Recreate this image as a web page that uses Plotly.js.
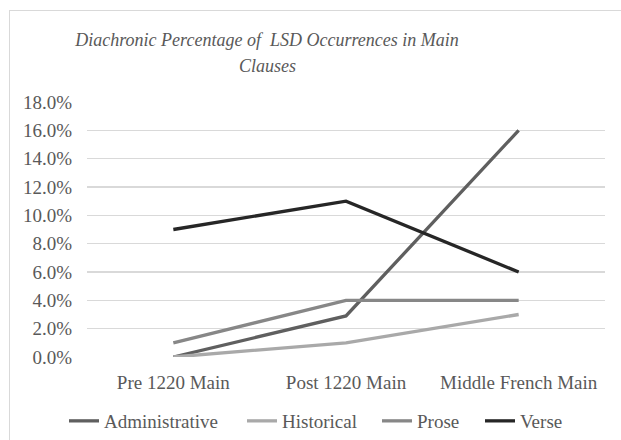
<!DOCTYPE html>
<html>
<head>
<meta charset="utf-8">
<script src="https://cdn.plot.ly/plotly-3.0.1.min.js"></script>
<style>
html,body{margin:0;padding:0;background:#fff;}
#wrap{position:relative;width:621px;height:440px;overflow:hidden;}
#chart{width:621px;height:440px;}
#frame{position:absolute;left:9px;top:10px;width:640px;height:460px;border:1px solid #d9d9d9;pointer-events:none;}
</style>
</head>
<body>
<div id="wrap"><div id="chart"></div><div id="frame"></div></div>
<script>
const categories = ["Pre 1220 Main", "Post 1220 Main", "Middle French Main"];
const seriesNames = ["Administrative", "Historical", "Prose", "Verse"];
const administrative = [0.0, 0.029, 0.16];
const historical = [0.0, 0.01, 0.03];
const prose = [0.01, 0.04, 0.04];
const verse = [0.09, 0.11, 0.06];
const colors = ["#5f5f5f", "#a9a9a9", "#878787", "#262626"];
const values = [administrative, historical, prose, verse];
const titleLines = ["Diachronic Percentage of  LSD Occurrences in Main", "Clauses"];

const font = "'Liberation Serif', 'DejaVu Serif', serif";
const legendIds = ["legend", "legend2", "legend3", "legend4"];
const legendStarts = [69, 247, 382, 485];
const traces = values.map((v, i) => ({
  x: categories, y: v, name: seriesNames[i], type: "scatter", mode: "lines",
  legend: legendIds[i],
  line: {color: colors[i], width: 3.3}
}));

const layout = {
  width: 621, height: 440,
  margin: {l: 87, r: 16, t: 102, b: 83, autoexpand: false},
  paper_bgcolor: "#fff", plot_bgcolor: "#fff",
  font: {family: font, color: "#595959", size: 18},
  title: {text: "<i>" + titleLines[0] + "</i>",
          x: 267/621, xref: "container", xanchor: "center", yref: "container", y: 1 - 40/440, yanchor: "middle",
          font: {family: font, size: 18, color: "#595959"}},
  annotations: [{text: "<i>" + titleLines[1] + "</i>", xref: "paper", yref: "paper",
          x: (267 - 87) / 518, y: 1 + (102 - 66) / 255, xanchor: "center", yanchor: "middle",
          showarrow: false, font: {family: font, size: 18, color: "#595959"}}],
  xaxis: {type: "category", range: [-0.5, 2.5], showgrid: false, zeroline: false, showline: false,
          automargin: false, ticks: "", ticklabelstandoff: 12, tickfont: {size: 19, color: "#595959"}},
  yaxis: {range: [0, 0.18], dtick: 0.02, tickformat: ".1%", showgrid: true,
          gridcolor: "#d9d9d9", gridwidth: 1.3, zeroline: false, showline: false, automargin: false,
          ticks: "", ticklen: 0, ticklabelstandoff: 14, tickfont: {size: 19, color: "#595959"}},
  showlegend: true,
  hovermode: false
};
legendIds.forEach((id, i) => {
  layout[id] = {orientation: "h", xref: "container", x: (legendStarts[i] - 5) / 621, xanchor: "left",
                yref: "container", y: 1 - 421 / 440, yanchor: "middle",
                bgcolor: "rgba(0,0,0,0)",
                font: {size: 19, color: "#595959"}};
});
Plotly.newPlot("chart", traces, layout, {displayModeBar: false, staticPlot: true});
</script>
</body>
</html>
